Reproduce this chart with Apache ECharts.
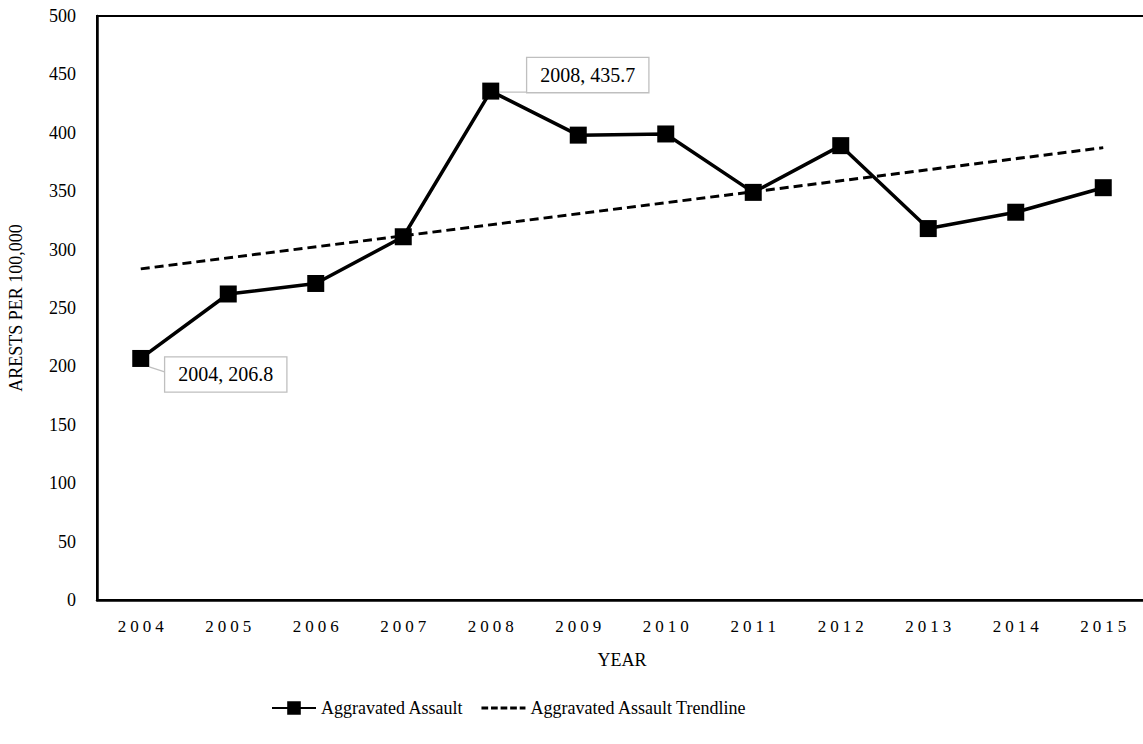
<!DOCTYPE html>
<html><head><meta charset="utf-8">
<script src="https://cdn.jsdelivr.net/npm/echarts@6/dist/echarts.min.js"></script>
<style>html,body{margin:0;padding:0;background:#fff}#c{width:1143px;height:744px}</style>
</head><body><div id="c"></div>
<script>
// ---- data ----
const years = ['2004','2005','2006','2007','2008','2009','2010','2011','2012','2013','2014','2015'];
const assault = [206.8, 262, 271, 311, 435.7, 398, 399, 349, 389, 318, 332, 353];
const trendStartEnd = [283.5, 387.3];   // trendline value at 2004 and at 2015
const yMin = 0, yMax = 500, yStep = 50;
const seriesNames = ['Aggravated Assault', 'Aggravated Assault Trendline'];
const yTitle = 'ARESTS PER 100,000';
const xTitle = 'YEAR';

// ---- styling ----
const FONT = "'Liberation Serif', 'Times New Roman', serif";
const calloutOffsets = { 0: [85, 16], 4: [97, -16] };
const dashIcon = 'path://M0,0h7v3h-7z M10,0h7v3h-7z M20,0h7v3h-7z M30,0h7v3h-7z M40,0h6v3h-6z';

const chart = echarts.init(document.getElementById('c'), null, { renderer: 'svg' });

const mainData = assault.map((v, i) => {
  if (!(i in calloutOffsets)) return v;
  return {
    value: v,
    label: {
      show: true, position: 'inside', offset: calloutOffsets[i],
      formatter: p => p.name + ', ' + p.value,
      fontFamily: FONT, fontSize: 20, color: '#000',
      backgroundColor: '#fff', borderColor: '#bfbfbf', borderWidth: 1.3,
      padding: [8, 13, 6, 13]
    },
    labelLine: { show: true, lineStyle: { color: '#bfbfbf', width: 1.3 } }
  };
});

chart.setOption({
  animation: false,
  backgroundColor: '#fff',
  grid: { left: 97, top: 16, right: -4, bottom: 144, containLabel: false, outerBoundsMode: 'none',
          show: true, borderColor: '#000', borderWidth: 2, backgroundColor: 'transparent' },
  xAxis: {
    type: 'category', data: years, boundaryGap: true,
    name: xTitle, nameLocation: 'middle', nameGap: 51,
    nameTextStyle: { fontFamily: FONT, fontSize: 18, color: '#000' },
    axisLine: { lineStyle: { color: '#000', width: 2.5 } },
    axisTick: { show: false },
    axisLabel: { fontFamily: FONT, fontSize: 17, color: '#000', margin: 18 }
  },
  yAxis: {
    type: 'value', min: yMin, max: yMax, interval: yStep,
    name: yTitle, nameLocation: 'middle', nameGap: 72,
    nameTextStyle: { fontFamily: FONT, fontSize: 18, color: '#000' },
    axisLine: { show: true, lineStyle: { color: '#000', width: 2.5 } },
    axisTick: { show: false },
    splitLine: { show: false },
    axisLabel: { fontFamily: FONT, fontSize: 18, color: '#000', margin: 21 }
  },
  legend: {
    bottom: 22, left: 266,
    itemWidth: 44, itemHeight: 17, itemGap: 18,
    textStyle: { fontFamily: FONT, fontSize: 18, color: '#000' },
    data: [
      { name: seriesNames[0] },
      { name: seriesNames[1], icon: dashIcon, itemStyle: { color: '#000' } }
    ]
  },
  series: [
    {
      name: seriesNames[1], type: 'line', z: 1,
      data: [[years[0], trendStartEnd[0]], [years[years.length - 1], trendStartEnd[1]]],
      symbol: 'none', silent: true,
      lineStyle: { color: '#000', width: 3, type: [9, 5] },
      itemStyle: { color: '#000' }
    },
    {
      name: seriesNames[0], type: 'line', z: 3,
      data: mainData,
      symbol: 'rect', symbolSize: 17,
      lineStyle: { color: '#000', width: 3.5 },
      itemStyle: { color: '#000' },
      label: { show: false }
    }
  ]
});

// letter-spaced category labels as in the reference
document.querySelectorAll('#c text').forEach(t => {
  if (/^\d{4}$/.test(t.textContent.trim())) {
    t.setAttribute('letter-spacing', '4');
    t.setAttribute('dx', '2');
  }
});
</script>
</body></html>
